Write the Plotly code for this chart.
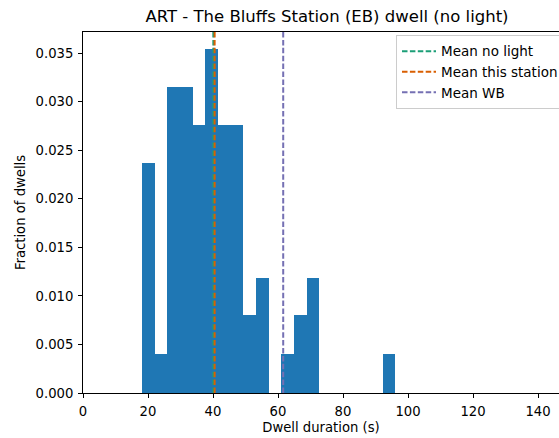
import plotly.graph_objects as go

# histogram bins (s) and fraction of dwells per bin
bin_edges = [18.1, 22.0, 25.9, 29.8, 33.7, 37.6, 41.5, 45.4, 49.3, 53.2, 57.1,
             61.0, 64.9, 68.8, 72.7, 76.6, 80.5, 84.4, 88.3, 92.2, 96.1]
fractions = [0.0237, 0.0040, 0.0315, 0.0315, 0.0276, 0.0354, 0.0276, 0.0276, 0.0080, 0.0118,
             0.0, 0.0040, 0.0080, 0.0118, 0.0, 0.0, 0.0, 0.0, 0.0, 0.0040]

# vertical mean lines
mean_names = ["Mean no light", "Mean this station", "Mean WB"]
mean_values = [40.1, 40.5, 61.6]
mean_colors = ["#1b9e77", "#d95f02", "#7570b3"]

x_ticks = [0, 20, 40, 60, 80, 100, 120, 140]
y_ticks = [0.000, 0.005, 0.010, 0.015, 0.020, 0.025, 0.030, 0.035]

Y_TOP = max(fractions) * 1.05
FONT = "DejaVu Sans"
W, H = 559, 438
TXT = 13.2

centers = [(a + b) / 2 for a, b in zip(bin_edges[:-1], bin_edges[1:])]
widths = [b - a for a, b in zip(bin_edges[:-1], bin_edges[1:])]

fig = go.Figure()
fig.add_trace(go.Bar(
    x=centers, y=fractions, width=widths,
    marker=dict(color="#1f77b4", line=dict(width=0)),
    showlegend=False, hoverinfo="skip",
))
for name, val, col in zip(mean_names, mean_values, mean_colors):
    fig.add_trace(go.Scatter(
        x=[val, val], y=[0, Y_TOP], mode="lines", name=name,
        line=dict(color=col, width=2, dash="5.5px,2.4px"),
    ))

fig.update_layout(
    width=W, height=H,
    margin=dict(l=83, r=0, t=32, b=45, autoexpand=False),
    plot_bgcolor="white", paper_bgcolor="white",
    font=dict(family=FONT, size=TXT, color="black"),
    bargap=0,
    title=dict(text="ART - The Bluffs Station (EB) dwell (no light)",
               x=327 / W, xref="container", xanchor="center",
               y=1 - 16 / H, yref="container", yanchor="middle",
               font=dict(size=16.5, family=FONT)),
    legend=dict(x=(396 - 83) / (W - 83), y=0.992, xanchor="left", yanchor="top",
                bgcolor="rgba(255,255,255,0.8)", bordercolor="#cccccc", borderwidth=1,
                font=dict(size=13.5, family=FONT), tracegroupgap=0,
                itemwidth=34),
)
fig.update_xaxes(
    range=[0, (W - 83) / 3.25], tickvals=x_ticks, ticks="outside", ticklen=4,
    tickcolor="black", showline=True, linecolor="black", linewidth=1, mirror=True,
    showgrid=False, zeroline=False,
    title=dict(text="Dwell duration (s)", standoff=4, font=dict(size=TXT)),
    tickfont=dict(size=TXT), ticklabelstandoff=2,
)
fig.update_yaxes(
    range=[0, Y_TOP], tickvals=y_ticks, tickformat=".3f", ticks="outside", ticklen=4,
    tickcolor="black", showline=True, linecolor="black", linewidth=1, showgrid=False,
    zeroline=False,
    title=dict(text="Fraction of dwells", standoff=6, font=dict(size=TXT)),
    tickfont=dict(size=TXT), ticklabelstandoff=2,
)

# drop the browser's default 8px body margin so the figure sits at the window corner
fig.write_html("out.html", config={"displayModeBar": False},
               post_script="document.body.style.margin='0';")
